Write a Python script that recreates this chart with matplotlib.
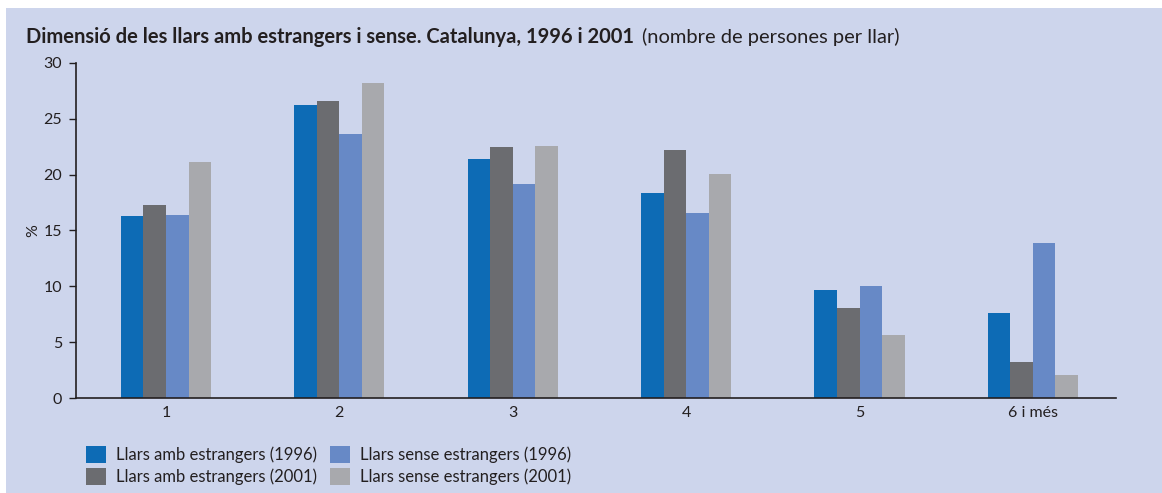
import numpy as np
import matplotlib.pyplot as plt
from matplotlib.patches import Rectangle, Patch

plt.rcParams['font.family'] = ['Lato', 'DejaVu Sans']

# household size categories
categories = ["1", "2", "3", "4", "5", "6 i més"]

# % of households
amb_1996 = [16.3, 26.2, 21.4, 18.4, 9.7, 7.6]
amb_2001 = [17.3, 26.6, 22.5, 22.2, 8.1, 3.2]
sense_1996 = [16.4, 23.6, 19.2, 16.6, 10.0, 13.9]
sense_2001 = [21.1, 28.2, 22.6, 20.1, 5.6, 2.1]

series_labels = ["Llars amb estrangers (1996)", "Llars amb estrangers (2001)",
                 "Llars sense estrangers (1996)", "Llars sense estrangers (2001)"]
colors = ["#0D6BB5", "#6B6C70", "#6789C6", "#A8A9AD"]
bg = "#CDD5EC"
txt = "#231F20"

fig = plt.figure(figsize=(11.62, 4.93), dpi=100)
fig.patch.set_facecolor("white")
# lavender panel (white strip on top and left like the source)
fig.patches.append(Rectangle((6 / 1162, 0), 1, 1 - 8 / 493, transform=fig.transFigure,
                             facecolor=bg, edgecolor="none", zorder=-10))

ax = fig.add_axes([76 / 1162, 1 - 398 / 493, (1116 - 76) / 1162, (398 - 63) / 493])
ax.set_zorder(1)
ax.set_facecolor(bg)

x = np.arange(len(categories))
w = 0.13
data = [amb_1996, amb_2001, sense_1996, sense_2001]
for i, (vals, c) in enumerate(zip(data, colors)):
    ax.bar(x + (i - 1.5) * w, vals, width=w, color=c, linewidth=0, label=series_labels[i])

ax.set_ylim(0, 30)
ax.set_xlim(-0.519, 5.479)
ax.set_yticks(range(0, 31, 5))
ax.set_xticks(x)
ax.set_xticklabels(categories)
ax.tick_params(axis="x", length=0, pad=6, labelsize=11.5, colors=txt)
ax.tick_params(axis="y", length=5, width=1, pad=5, labelsize=11.5, colors=txt)
for s in ["top", "right"]:
    ax.spines[s].set_visible(False)
for s in ["left", "bottom"]:
    ax.spines[s].set_color(txt)
    ax.spines[s].set_linewidth(1.2)
ax.set_ylabel("%", fontsize=11.5, color=txt, labelpad=2)

t1 = fig.text(26 / 1162, 1 - 37 / 493, "Dimensió de les llars amb estrangers i sense. Catalunya, 1996 i 2001",
              fontsize=14.5, fontweight="bold", color=txt, va="center", ha="left")
fig.canvas.draw()
bb = t1.get_window_extent()
fig.text((bb.x1 + 8) / 1162, 1 - 37 / 493, "(nombre de persones per llar)",
         fontsize=14.5, color=txt, va="center", ha="left")

handles = [Patch(facecolor=c, edgecolor="none") for c in colors]
fig.legend(handles, series_labels, ncol=2, loc="upper left",
           bbox_to_anchor=(74 / 1162, 1 - 434 / 493), frameon=False,
           fontsize=12, handlelength=1.2, handleheight=1.2, handletextpad=0.6,
           columnspacing=0.8, labelspacing=0.3, labelcolor=txt, borderpad=0.2)

fig.savefig("out.png", dpi=100, facecolor=fig.get_facecolor())
